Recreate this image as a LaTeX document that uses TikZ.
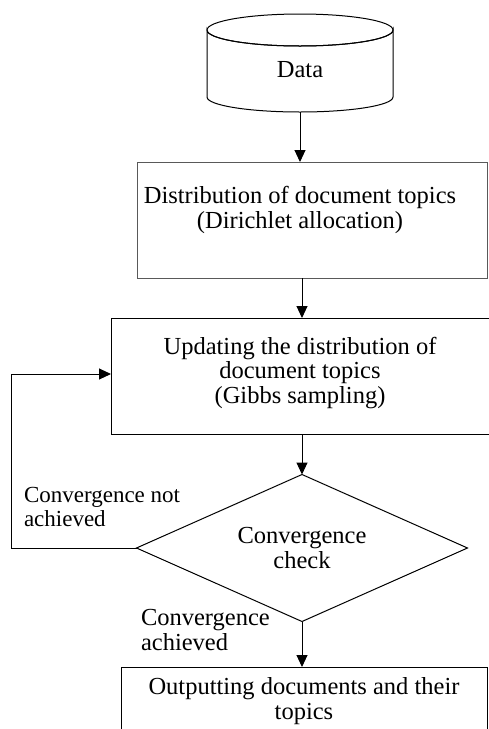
\documentclass[tikz,border=0pt]{standalone}
\usepackage{fontspec}
\setmainfont{Liberation Serif}
\usetikzlibrary{arrows.meta,shapes.geometric}
\begin{document}
\begin{tikzpicture}[x=1pt,y=-1pt,
  every node/.style={inner sep=0pt, outer sep=0pt},
  txt/.style={font=\fontsize{24.5}{24.5}\selectfont, align=center},
  lbl/.style={font=\fontsize{23}{24}\selectfont, align=left},
  box/.style={draw, line width=1pt, rectangle},
  arr/.style={line width=1pt, -{Triangle[length=12pt,width=11pt]}}]
\useasboundingbox (0,0) rectangle (489,729);
\clip (0,0) rectangle (489,729);

% data store (cylinder)
\draw[line width=1pt] (207,97) -- (207,30) arc[start angle=180, end angle=360, x radius=93, y radius=-16]
  -- (393,97) arc[start angle=0, end angle=-180, x radius=93, y radius=-15] -- cycle;
\draw[line width=1pt] (300,30) ellipse[x radius=93, y radius=16];
\node[txt] (data) at (300,70) {Data};
\coordinate (cylbot) at (300,112);

% process boxes
\node[box, draw=black!65, minimum width=350pt, minimum height=116pt] (b1) at (312,220) {};
\node[txt] (t1) at (300,210) {Distribution of document topics\\(Dirichlet allocation)};

\node[box, minimum width=384pt, minimum height=116pt] (b2) at (303,376) {};
\node[txt] (t2) at (300,373) {Updating the distribution of\\document topics\\(Gibbs sampling)};

\node[draw, line width=1pt, diamond, aspect=2.25, minimum width=331pt, minimum height=147pt] (chk) at (302,548) {};
\node[txt] (t3) at (302,548) {Convergence\\check};

\node[box, minimum width=366pt, minimum height=120pt] (b3) at (304,727) {};
\node[txt] (t4) at (304,701) {Outputting documents and their\\topics};

% labels
\node[lbl, anchor=west] (lno) at (24,507) {Convergence not\\achieved};
\node[lbl, anchor=west, font=\fontsize{24.5}{25}\selectfont] (lyes) at (141,630) {Convergence\\achieved};

% connectors
\draw[arr] (cylbot) -- (cylbot |- b1.north);
\draw[arr] (chk.north |- b1.south) -- (chk.north |- b2.north);
\draw[arr] (chk.north |- b2.south) -- (chk.north);
\draw[arr] (chk.south) -- (chk.south |- b3.north);
\draw[arr] (chk.west) -- (11,548) |- (b2.west |- 0,374);
\end{tikzpicture}
\end{document}
